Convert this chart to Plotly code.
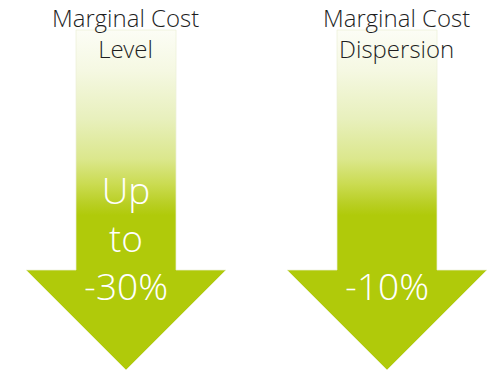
import plotly.graph_objects as go

# ---- data ----
titles = ["Marginal Cost<br>Level", "Marginal Cost<br>Dispersion"]
values = ["Up<br>to<br>-30%", "-10%"]

# ---- geometry (pixel-like axes) ----
W, H = 487, 371
centers = [126, 387]
title_dx = [-1, 9]
shaft_half = 50
head_half = 100
shaft_top = 30
head_top = 270
tip_y = 370

green = "#b0ca0a"
cscale = [
    [0.0, "#fcfdf6"],
    [0.12, "#f5f8e2"],
    [0.26, "#e8f0bd"],
    [0.38, "#dbe78c"],
    [0.455, "#cadb50"],
    [0.51, "#b9cf24"],
    [0.545, green],
    [1.0, green],
]

fig = go.Figure()
for cx in centers:
    xs = [cx - shaft_half, cx + shaft_half, cx + shaft_half, cx + head_half, cx,
          cx - head_half, cx - shaft_half, cx - shaft_half]
    ys = [shaft_top, shaft_top, head_top, head_top, tip_y, head_top, head_top, shaft_top]
    fig.add_trace(go.Scatter(
        x=xs, y=ys, mode="lines", fill="toself",
        line=dict(width=0.8, color="rgba(235,240,215,0.9)"),
        fillgradient=dict(type="vertical", colorscale=cscale,
                          start=shaft_top, stop=tip_y),
        hoverinfo="skip", showlegend=False,
    ))

fam = "Open Sans Light, Lato Light, Open Sans"
title_font = dict(family=fam, size=24, color="#1e1e1e", weight=300)
val_font = dict(family=fam, size=37, color="white", weight=300)

title_base = [28, 60]
for i, (cx, t) in enumerate(zip(centers, titles)):
    fig.add_annotation(x=cx + title_dx[i], y=title_base[-1], text=t,
                       showarrow=False, xanchor="center", yanchor="bottom",
                       font=title_font, yshift=-7)

for i, (cx, v) in enumerate(zip(centers, values)):
    fig.add_annotation(x=cx, y=302, text=v, showarrow=False,
                       xanchor="center", yanchor="bottom",
                       font=val_font, yshift=-11)

fig.update_xaxes(range=[0, W], visible=False, fixedrange=True)
fig.update_yaxes(range=[H, 0], visible=False, fixedrange=True)
fig.update_layout(width=W, height=H, margin=dict(l=0, r=0, t=0, b=0),
                  paper_bgcolor="white", plot_bgcolor="white")
fig.write_html("out.html")
